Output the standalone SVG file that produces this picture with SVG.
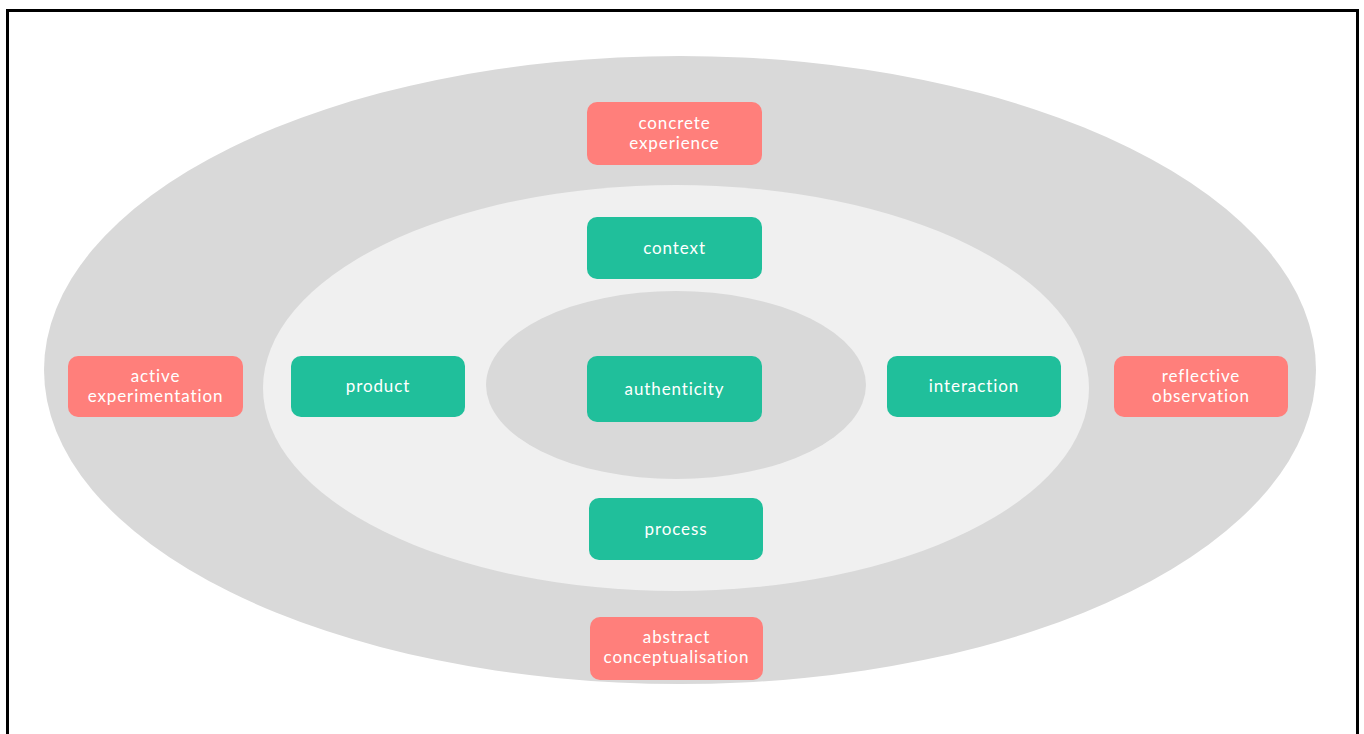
<svg xmlns="http://www.w3.org/2000/svg" width="1364" height="734" viewBox="0 0 1364 734">
<style>
.red{fill:#FF7F7B}
.teal{fill:#20BF9B}
text{font-family:"Lato","Open Sans",sans-serif;font-size:17px;letter-spacing:0.9px;fill:#FFFFFF;text-anchor:middle}
</style>
<rect x="0" y="0" width="1364" height="734" fill="#FFFFFF"/>
<path d="M7.5 734 V10.5 H1357.5 V734" fill="none" stroke="#000000" stroke-width="3"/>
<ellipse cx="680" cy="370" rx="636" ry="314" fill="#D9D9D9"/>
<ellipse cx="676" cy="388" rx="413" ry="203" fill="#F0F0F0"/>
<ellipse cx="676" cy="385" rx="190" ry="94" fill="#D9D9D9"/>
<g id="concrete-experience"><rect class="red" x="587" y="102" width="175" height="63" rx="10"/><text x="674.5" y="129">concrete</text><text x="674.5" y="149">experience</text></g>
<g id="context"><rect class="teal" x="587" y="217" width="175" height="62" rx="10"/><text x="674.5" y="254">context</text></g>
<g id="active-experimentation"><rect class="red" x="68" y="356" width="175" height="61" rx="10"/><text x="155.5" y="382">active</text><text x="155.5" y="402">experimentation</text></g>
<g id="product"><rect class="teal" x="291" y="356" width="174" height="61" rx="10"/><text x="378" y="392">product</text></g>
<g id="authenticity"><rect class="teal" x="587" y="356" width="175" height="66" rx="10"/><text x="674.5" y="395">authenticity</text></g>
<g id="interaction"><rect class="teal" x="887" y="356" width="174" height="61" rx="10"/><text x="974" y="392">interaction</text></g>
<g id="reflective-observation"><rect class="red" x="1114" y="356" width="174" height="61" rx="10"/><text x="1201" y="382">reflective</text><text x="1201" y="402">observation</text></g>
<g id="process"><rect class="teal" x="589" y="498" width="174" height="62" rx="10"/><text x="676" y="535">process</text></g>
<g id="abstract-conceptualisation"><rect class="red" x="590" y="617" width="173" height="63" rx="10"/><text x="676.5" y="643">abstract</text><text x="676.5" y="663">conceptualisation</text></g>
<g id="connectors"></g>
</svg>
